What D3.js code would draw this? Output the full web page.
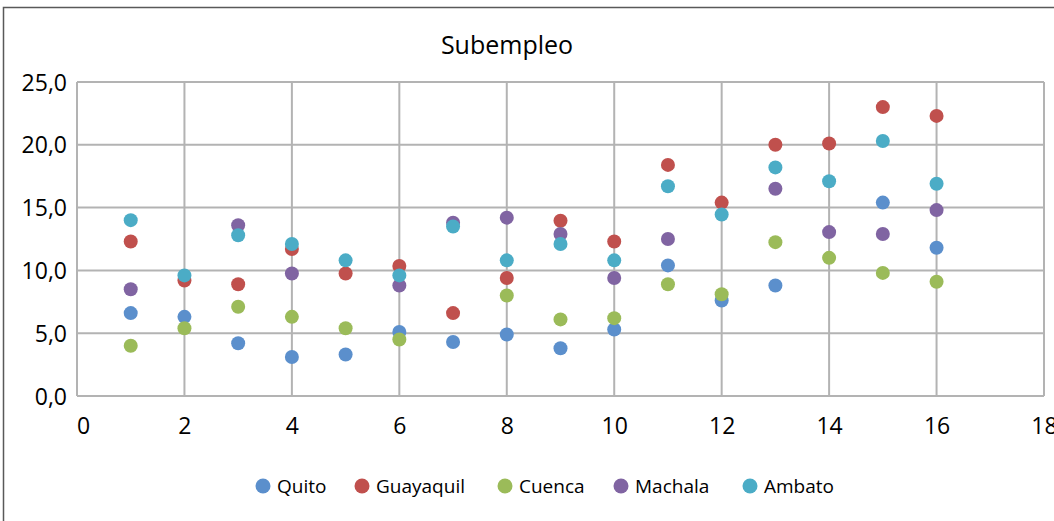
<!DOCTYPE html>
<html>
<head>
<meta charset="utf-8">
<script src="https://cdn.jsdelivr.net/npm/d3@7"></script>
<style>
  body { margin: 0; background: #fff; }
  text { font-family: "Open Sans", "Noto Sans", sans-serif; fill: #000; }
</style>
</head>
<body>
<script>
// data
var xs = [1, 2, 3, 4, 5, 6, 7, 8, 9, 10, 11, 12, 13, 14, 15, 16];
var quito     = [6.6, 6.3, 4.2, 3.1, 3.3, 5.1, 4.3, 4.9, 3.8, 5.3, 10.4, 7.6, 8.8, null, 15.4, 11.8];
var guayaquil = [12.3, 9.2, 8.9, 11.7, 9.75, 10.35, 6.6, 9.4, 13.95, 12.3, 18.4, 15.4, 20.0, 20.1, 23.0, 22.3];
var cuenca    = [4.0, 5.4, 7.1, 6.3, 5.4, 4.5, null, 8.0, 6.1, 6.2, 8.9, 8.1, 12.25, 11.0, 9.8, 9.1];
var machala   = [8.5, null, 13.6, 9.75, null, 8.8, 13.8, 14.2, 12.9, 9.4, 12.5, null, 16.5, 13.05, 12.9, 14.8];
var ambato    = [14.0, 9.6, 12.8, 12.1, 10.8, 9.6, 13.5, 10.8, 12.1, 10.8, 16.7, 14.45, 18.2, 17.1, 20.3, 16.9];

var seriesNames = ["Quito", "Guayaquil", "Cuenca", "Machala", "Ambato"];
var seriesValues = [quito, guayaquil, cuenca, machala, ambato];
var colors = ["#5B8FCC", "#C0504D", "#9BBB59", "#8064A2", "#4BACC6"];
var xTicks = [0, 2, 4, 6, 8, 10, 12, 14, 16, 18];
var yTicks = [0, 5, 10, 15, 20, 25];

var width = 1054, height = 521;
var margin = {left: 77, right: 10, top: 82, bottom: 125};

var svg = d3.select("body").append("svg")
    .attr("width", width)
    .attr("height", height);

// outer chart frame
svg.append("rect")
    .attr("x", 3.5).attr("y", 7.5)
    .attr("width", width + 10).attr("height", height + 10)
    .attr("fill", "none")
    .attr("stroke", "#595959")
    .attr("stroke-width", 1.5);

var x = d3.scaleLinear().domain([0, 18]).range([margin.left, width - margin.right]);
var y = d3.scaleLinear().domain([0, 25]).range([height - margin.bottom, margin.top]);

// grid
svg.append("g").selectAll("line.v")
    .data(xTicks).enter().append("line")
    .attr("x1", d => x(d)).attr("x2", d => x(d))
    .attr("y1", y(0)).attr("y2", y(25))
    .attr("stroke", "#b3b3b3").attr("stroke-width", 2);

svg.append("g").selectAll("line.h")
    .data(yTicks).enter().append("line")
    .attr("x1", x(0)).attr("x2", x(18))
    .attr("y1", d => y(d)).attr("y2", d => y(d))
    .attr("stroke", "#b3b3b3").attr("stroke-width", 2);

// axes (labels only)
var fmt = d => d.toFixed(1).replace(".", ",");
var yAxis = svg.append("g")
    .attr("transform", "translate(" + x(0) + ",0)")
    .call(d3.axisLeft(y).tickValues(yTicks).tickFormat(fmt).tickSize(0).tickPadding(10));
yAxis.select(".domain").remove();
yAxis.selectAll("text").style("font-size", "23px").attr("dy", "0.35em");

var xAxis = svg.append("g")
    .attr("transform", "translate(0," + y(0) + ")")
    .call(d3.axisBottom(x).tickValues(xTicks).tickSize(0).tickPadding(22));
xAxis.select(".domain").remove();
xAxis.selectAll("text").style("font-size", "23px");
xAxis.select(".tick text").attr("x", 6);

// title
svg.append("text")
    .attr("x", 507).attr("y", 54)
    .attr("text-anchor", "middle")
    .style("font-size", "25px")
    .text("Subempleo");

// points
seriesValues.forEach(function(vals, i) {
    var pts = xs.map((d, j) => [d, vals[j]]).filter(p => p[1] != null);
    svg.append("g").selectAll("circle")
        .data(pts).enter().append("circle")
        .attr("cx", d => x(d[0]))
        .attr("cy", d => y(d[1]))
        .attr("r", 7)
        .attr("fill", colors[i]);
});

// legend
var legendX = [263, 362, 505, 621, 750];
var legend = svg.append("g").selectAll("g")
    .data(seriesNames).enter().append("g")
    .attr("transform", (d, i) => "translate(" + legendX[i] + ",486)");
legend.append("circle").attr("r", 7.5).attr("fill", (d, i) => colors[i]);
legend.append("text")
    .attr("x", 14).attr("dy", "0.35em")
    .style("font-size", "19px")
    .text(d => d);
</script>
</body>
</html>
